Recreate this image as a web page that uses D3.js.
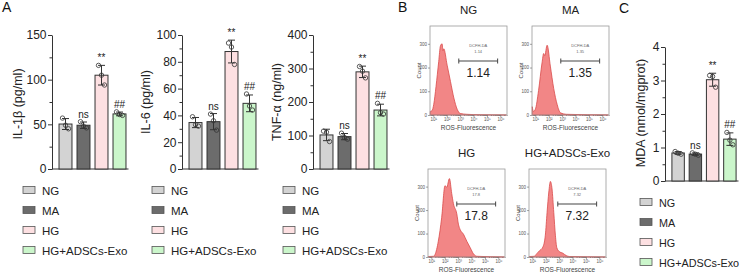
<!DOCTYPE html>
<html>
<head>
<meta charset="utf-8">
<script src="https://cdn.jsdelivr.net/npm/d3@7"></script>
<style>
  body { margin: 0; background: #fff; }
  svg { font-family: "Liberation Sans", Arial, sans-serif; }
</style>
</head>
<body>
<svg id="fig" width="744" height="276"></svg>
<script>
// groups shared by every panel
const groups = ["NG", "MA", "HG", "HG+ADSCs-Exo"];
const groupColors = ["#d3d3d3", "#6c6c6c", "#fde0e2", "#cbf6cb"];
const sigLabels = ["", "ns", "**", "##"];

// replicate values (3 per group)
const il1bValues = [[57, 49, 45], [53, 48, 46], [116, 105, 94], [64, 61, 60]];
const il6Values = [[39, 33, 32], [41, 36, 29], [94, 91, 78], [56, 47, 44]];
const tnfValues = [[113, 110, 82], [107, 94, 89], [306, 292, 272], [196, 168, 164]];
const mdaValues = [[0.88, 0.83, 0.80], [0.84, 0.80, 0.77], [3.15, 3.12, 2.80], [1.45, 1.22, 1.08]];

// flow cytometry histograms: [log10 fluorescence, count]
const ngHist = [[0.77, 15], [0.9, 18], [1.03, 45], [1.2, 120], [1.4, 225], [1.53, 291], [1.65, 300], [1.72, 270], [1.78, 279], [2.03, 210], [2.28, 141], [2.53, 72], [2.78, 24], [3.03, 6], [3.5, 3], [4.5, 1], [6.45, 0]];
const maHist = [[0.77, 35], [0.85, 15], [1.0, 24], [1.24, 103], [1.5, 220], [1.62, 259], [1.7, 250], [1.88, 294], [2.12, 206], [2.37, 112], [2.63, 44], [2.88, 9], [3.3, 3], [6.45, 0]];
const hgHist = [[0.77, 2], [1.15, 3], [1.27, 10], [1.52, 67], [1.77, 167], [2.02, 304], [2.15, 297], [2.35, 334], [2.52, 271], [2.65, 227], [2.9, 184], [3.02, 140], [3.15, 117], [3.4, 97], [3.65, 67], [3.9, 40], [4.15, 13], [4.4, 3], [6.45, 0]];
const exoHist = [[0.77, 2], [1.15, 3], [1.27, 10], [1.52, 26], [1.78, 42], [1.97, 93], [2.1, 190], [2.23, 277], [2.35, 322], [2.47, 290], [2.6, 190], [2.72, 93], [2.83, 39], [3.02, 23], [3.28, 16], [3.53, 6], [3.78, 2], [6.45, 0]];
const flowPercents = ["1.14", "1.35", "17.8", "7.32"];
const gateRange = [2.9, 5.8];

const svg = d3.select("#fig");
const ink = "#333";

function barChart(cfg) {
  const y = d3.scaleLinear().domain([0, cfg.max]).range([cfg.y0, cfg.y0 - cfg.h]);
  const x = d3.scaleBand().domain(groups)
    .range([cfg.x0 + 4.5, cfg.x0 + 4.5 + cfg.w])
    .paddingInner(0.28).paddingOuter(0.14);
  const g = svg.append("g");

  // minor ticks
  const minor = g.append("g").attr("transform", `translate(${cfg.x0},0)`)
    .call(d3.axisLeft(y).tickValues(d3.range(cfg.minor, cfg.max, cfg.major)).tickSize(2.5).tickFormat(""));
  minor.select(".domain").remove();
  // major ticks
  const major = g.append("g").attr("transform", `translate(${cfg.x0},0)`)
    .call(d3.axisLeft(y).tickValues(d3.range(0, cfg.max + cfg.major / 2, cfg.major))
      .tickSize(4).tickSizeOuter(0).tickPadding(1.5).tickFormat(d3.format("d")));
  major.selectAll("text").style("font-size", "12px").attr("fill", "#222");
  g.selectAll(".tick line, .domain").attr("stroke", ink);

  // baseline
  g.append("line")
    .attr("x1", cfg.x0).attr("x2", cfg.x0 + cfg.w + 4.5)
    .attr("y1", cfg.y0).attr("y2", cfg.y0)
    .attr("stroke", ink);

  const stats = cfg.values.map((v, i) => ({
    group: groups[i], mean: d3.mean(v), sd: d3.deviation(v), pts: v, i
  }));

  g.selectAll(".bar").data(stats).enter().append("rect")
    .attr("x", d => x(d.group))
    .attr("width", x.bandwidth())
    .attr("y", d => y(d.mean))
    .attr("height", d => cfg.y0 - y(d.mean))
    .attr("fill", d => groupColors[d.i])
    .attr("stroke", ink).attr("stroke-width", 1);

  const cx = d => x(d.group) + x.bandwidth() / 2;
  // error bars
  g.selectAll(".err").data(stats).enter().append("line")
    .attr("x1", cx).attr("x2", cx)
    .attr("y1", d => y(d.mean - d.sd)).attr("y2", d => y(d.mean + d.sd))
    .attr("stroke", ink).attr("stroke-width", 1);
  g.selectAll(".capT").data(stats).enter().append("line")
    .attr("x1", d => cx(d) - 3.5).attr("x2", d => cx(d) + 3.5)
    .attr("y1", d => y(d.mean + d.sd)).attr("y2", d => y(d.mean + d.sd))
    .attr("stroke", ink);
  g.selectAll(".capB").data(stats).enter().append("line")
    .attr("x1", d => cx(d) - 3.5).attr("x2", d => cx(d) + 3.5)
    .attr("y1", d => y(d.mean - d.sd)).attr("y2", d => y(d.mean - d.sd))
    .attr("stroke", ink);

  // individual points
  const jitter = [-3, 0, 3];
  stats.forEach(d => {
    g.selectAll(null).data(d.pts).enter().append("circle")
      .attr("cx", (v, k) => cx(d) + jitter[k])
      .attr("cy", v => y(v))
      .attr("r", 2.2)
      .attr("fill", "none")
      .attr("stroke", ink).attr("stroke-width", 0.8);
  });

  // significance marks
  g.selectAll(".sig").data(stats.filter(d => sigLabels[d.i])).enter().append("text")
    .attr("x", cx)
    .attr("y", d => y(Math.max(d.mean + d.sd, d3.max(d.pts))) - 4)
    .attr("text-anchor", "middle")
    .style("font-size", "10px")
    .attr("fill", "#222")
    .text(d => sigLabels[d.i]);

  // y label
  g.append("text")
    .attr("transform", `translate(${cfg.labelX},${cfg.labelY}) rotate(-90)`)
    .attr("text-anchor", "middle")
    .style("font-size", "12.5px")
    .attr("fill", "#222")
    .text(cfg.label);
}

function legend(x0, y0, size) {
  const g = svg.append("g");
  const rows = g.selectAll("g").data(groups).enter().append("g")
    .attr("transform", (d, i) => `translate(${x0},${y0 + i * 20})`);
  rows.append("rect")
    .attr("x", 0).attr("y", -3.5).attr("width", 12).attr("height", 7)
    .attr("fill", (d, i) => groupColors[i])
    .attr("stroke", "#555").attr("stroke-width", 0.8);
  rows.append("text")
    .attr("x", 19).attr("y", 4.5)
    .style("font-size", size + "px")
    .attr("fill", "#222")
    .text(d => d);
}

function flowPanel(cfg) {
  const fx = d3.scaleLinear().domain([0.75, 6.5]).range([cfg.x, cfg.x + cfg.w]);
  const fy = d3.scaleLinear().domain([0, 375]).range([cfg.y + cfg.h, cfg.y]);
  const g = svg.append("g");

  g.append("text")
    .attr("x", cfg.x + cfg.w / 2).attr("y", cfg.y - 12)
    .attr("text-anchor", "middle")
    .style("font-size", "11.5px").attr("fill", "#222")
    .text(cfg.title);

  const area = d3.area()
    .x(d => fx(d[0])).y0(fy(0)).y1(d => fy(d[1]))
    .curve(d3.curveMonotoneX);
  g.append("path").datum(cfg.data)
    .attr("d", area)
    .attr("fill", "#f28686")
    .attr("stroke", "#d94a4a").attr("stroke-width", 0.8);

  g.append("rect")
    .attr("x", cfg.x).attr("y", cfg.y).attr("width", cfg.w).attr("height", cfg.h)
    .attr("fill", "none").attr("stroke", "#999").attr("stroke-width", 0.8);

  // x ticks (log decades)
  const minorX = [];
  for (let n = 0; n < 7; n++) for (let k = 2; k < 10; k++) {
    const v = n + Math.log10(k);
    if (v > 0.75 && v < 6.5) minorX.push(v);
  }
  const xa = g.append("g").attr("transform", `translate(0,${cfg.y + cfg.h})`)
    .call(d3.axisBottom(fx).tickValues([1, 2, 3, 4, 5, 6]).tickSize(2).tickPadding(1)
      .tickFormat(d => "10" + "⁰¹²³⁴⁵⁶"[d]));
  const xm = g.append("g").attr("transform", `translate(0,${cfg.y + cfg.h})`)
    .call(d3.axisBottom(fx).tickValues(minorX).tickSize(1).tickFormat(""));
  xa.select(".domain").remove();
  xm.select(".domain").remove();
  xa.selectAll("text").style("font-size", "4.5px").attr("fill", "#555");

  const ya = g.append("g").attr("transform", `translate(${cfg.x},0)`)
    .call(d3.axisLeft(fy).tickValues([0, 100, 200, 300]).tickSize(2).tickPadding(1));
  ya.select(".domain").remove();
  ya.selectAll("text").style("font-size", "4.5px").attr("fill", "#555");
  g.selectAll(".tick line").attr("stroke", "#666").attr("stroke-width", 0.6);

  g.append("text")
    .attr("transform", `translate(${cfg.x - 9},${cfg.y + cfg.h / 2}) rotate(-90)`)
    .attr("text-anchor", "middle")
    .style("font-size", "6px").attr("fill", "#444")
    .text("Count");
  g.append("text")
    .attr("x", cfg.x + cfg.w / 2).attr("y", cfg.y + cfg.h + 15)
    .attr("text-anchor", "middle")
    .style("font-size", "6.5px").attr("fill", "#444")
    .text("ROS-Fluorescence");

  // gate
  const gy = cfg.y + 35;
  const gx1 = fx(gateRange[0]), gx2 = fx(gateRange[1]);
  g.append("line").attr("x1", gx1).attr("x2", gx2).attr("y1", gy).attr("y2", gy)
    .attr("stroke", "#444").attr("stroke-width", 1.2);
  [gx1, gx2].forEach(gx => g.append("line")
    .attr("x1", gx).attr("x2", gx).attr("y1", gy - 2.5).attr("y2", gy + 2.5)
    .attr("stroke", "#444").attr("stroke-width", 1));
  g.append("text")
    .attr("x", (gx1 + gx2) / 2).attr("y", gy - 14)
    .attr("text-anchor", "middle")
    .style("font-size", "4px").attr("fill", "#666")
    .text("DCFH-DA");
  g.append("text")
    .attr("x", (gx1 + gx2) / 2).attr("y", gy - 8)
    .attr("text-anchor", "middle")
    .style("font-size", "4px").attr("fill", "#666")
    .text(cfg.pct);
  g.append("text")
    .attr("x", (gx1 + gx2) / 2).attr("y", gy + 16)
    .attr("text-anchor", "middle")
    .style("font-size", "12px").attr("fill", "#222")
    .text(cfg.pct);
}

// panel letters
[["A", 2, 12], ["B", 398, 12], ["C", 619, 13]].forEach(([t, x, y]) =>
  svg.append("text").attr("x", x).attr("y", y)
    .style("font-size", "14px").attr("fill", "#111").text(t));

// A
barChart({ x0: 52, y0: 169, h: 134, w: 72, max: 150, major: 50, minor: 25,
  values: il1bValues, label: "IL-1β (pg/ml)", labelX: 22, labelY: 104 });
barChart({ x0: 182, y0: 169, h: 134, w: 72, max: 100, major: 20, minor: 10,
  values: il6Values, label: "IL-6 (pg/ml)", labelX: 150, labelY: 102 });
barChart({ x0: 313, y0: 169, h: 134, w: 72, max: 400, major: 100, minor: 50,
  values: tnfValues, label: "TNF-α (ng/ml)", labelX: 281, labelY: 102 });
legend(23, 190, 11.5);
legend(152, 190, 11.5);
legend(283, 190, 11.5);

// B
const flowData = [ngHist, maHist, hgHist, exoHist];
const flowBoxes = [[430, 26, 77, 89], [532, 26, 77, 89], [428, 169, 77, 88], [529, 169, 77, 88]];
flowData.forEach((data, i) => flowPanel({
  x: flowBoxes[i][0], y: flowBoxes[i][1], w: flowBoxes[i][2], h: flowBoxes[i][3],
  data, title: groups[i], pct: flowPercents[i]
}));

// C
barChart({ x0: 665, y0: 181, h: 134, w: 69, max: 4, major: 1, minor: 0.5,
  values: mdaValues, label: "MDA (nmol/mgprot)", labelX: 645, labelY: 113 });
legend(640, 202, 10.8);
</script>
</body>
</html>
